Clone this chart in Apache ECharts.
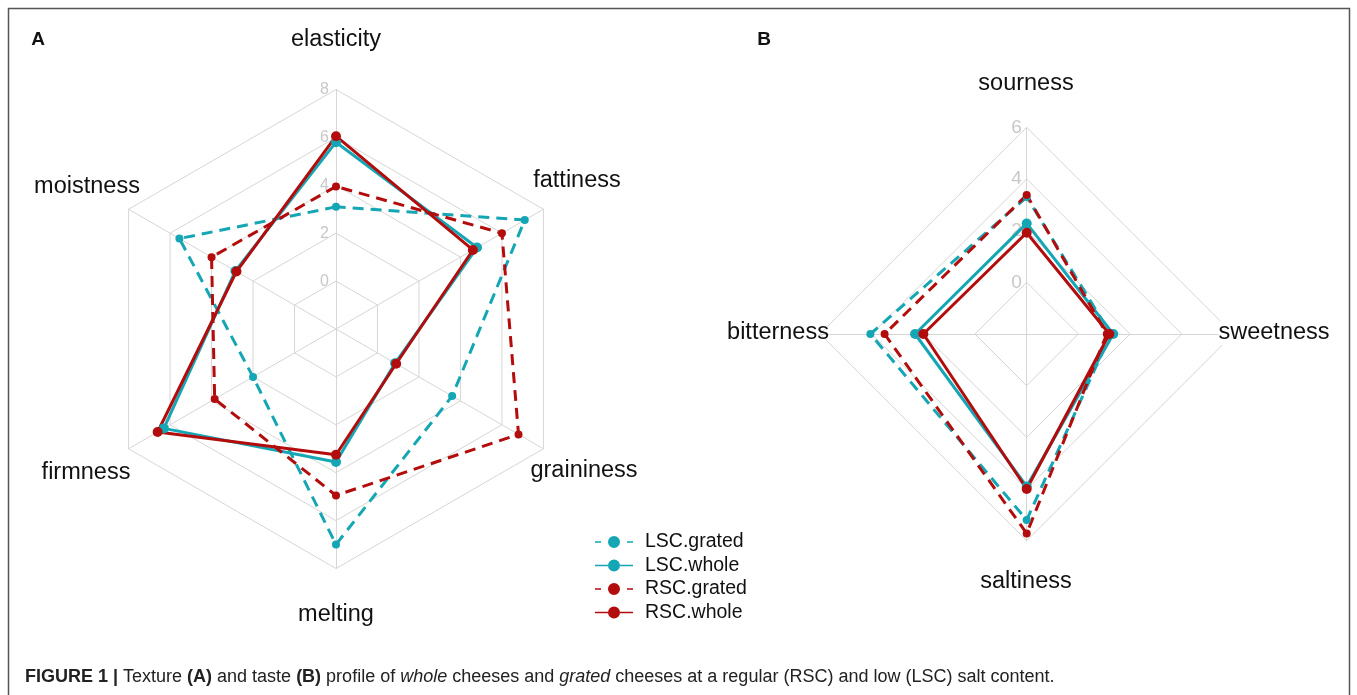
<!DOCTYPE html>
<html>
<head>
<meta charset="utf-8">
<script src="https://cdn.jsdelivr.net/npm/echarts@6/dist/echarts.min.js"></script>
<style>
html,body{margin:0;padding:0;background:#fff;}
#chart{width:1357px;height:695px;}
</style>
</head>
<body>
<div id="chart"></div>
<script>
// ---- Data ----
const seriesNames = ['LSC.grated', 'LSC.whole', 'RSC.grated', 'RSC.whole'];

// Texture (A): order elasticity, moistness, firmness, melting, graininess, fattiness
const textureAttrs = ['elasticity', 'moistness', 'firmness', 'melting', 'graininess', 'fattiness'];
const textureLSCgrated = [3.1, 5.55, 2.0, 7.0, 3.6, 7.1];
const textureLSCwhole  = [5.8, 2.85, 6.3, 3.55, 0.85, 4.8];
const textureRSCgrated = [3.95, 4.0, 3.85, 4.95, 6.8, 6.0];
const textureRSCwhole  = [6.05, 2.8, 6.6, 3.25, 0.9, 4.6];
const textureTicks = ['0', '2', '4', '6', '8'];

// Taste (B): order sourness, bitterness, saltiness, sweetness
const tasteAttrs = ['sourness', 'bitterness', 'saltiness', 'sweetness'];
const tasteLSCgrated = [3.3, 4.05, 5.2, 1.25];
const tasteLSCwhole  = [2.28, 2.32, 3.9, 1.35];
const tasteRSCgrated = [3.38, 3.5, 5.72, 1.1];
const tasteRSCwhole  = [1.92, 2.0, 4.0, 1.2];
const tasteTicks = ['0', '2', '4', '6'];

// ---- Styles ----
const TEAL = '#14a6b4';
const RED = '#b30c0c';
const GRID = '#d6d6d6';
const FONT = 'Liberation Sans, Arial, sans-serif';

const dashedIcon = 'path://M0,5.25h6v1.5h-6z M32,5.25h6v1.5h-6z M13,6a6,6 0 1,0 12,0a6,6 0 1,0 -12,0z';
const solidIcon = 'path://M0,5.25h13v1.5h-13z M25,5.25h13v1.5h-13z M13,6a6,6 0 1,0 12,0a6,6 0 1,0 -12,0z';

function mkSeries(name, radarIndex, values) {
  const dashed = name.indexOf('grated') >= 0;
  const color = name.indexOf('LSC') === 0 ? TEAL : RED;
  return {
    type: 'radar',
    name: name,
    radarIndex: radarIndex,
    symbol: 'circle',
    symbolSize: dashed ? 8 : 10,
    itemStyle: { color: color },
    lineStyle: { color: color, width: 3, type: dashed ? [11, 7] : 'solid' },
    data: [{ name: name, value: values }]
  };
}

const textureMin = -2, textureMax = 8;
const tasteMin = -2, tasteMax = 6;

const chart = echarts.init(document.getElementById('chart'), null, { renderer: 'canvas' });

function radarDef(attrs, min, max, center, radius, splitNumber) {
  return {
    center: center,
    radius: radius,
    startAngle: 90,
    shape: 'polygon',
    splitNumber: splitNumber,
    indicator: attrs.map(a => ({ name: a, min: min, max: max })),
    axisName: { show: false },
    axisLine: { lineStyle: { color: GRID, width: 1 } },
    splitLine: { lineStyle: { color: GRID, width: 1 } },
    splitArea: { show: false },
    axisTick: { show: false },
    axisLabel: { show: false }
  };
}

function txt(x, y, s, size, extra) {
  return Object.assign({
    type: 'text', x: x, y: y, z: 100,
    style: { text: s, font: size + 'px ' + FONT, fill: '#111', align: 'center', verticalAlign: 'middle' }
  }, extra || {});
}

const labelSize = 23.5;

const option = {
  animation: false,
  backgroundColor: '#fff',
  radar: [
    radarDef(textureAttrs, textureMin, textureMax, [336, 329], 239.5, 5),
    radarDef(tasteAttrs, tasteMin, tasteMax, [1026.7, 334], 206.7, 4)
  ],
  polar: [
    { center: [336, 329], radius: 239.5 },
    { center: [1026.7, 334], radius: 206.7 }
  ],
  angleAxis: [
    { polarIndex: 0, show: false, startAngle: 90, min: 0, max: 360 },
    { polarIndex: 1, show: false, startAngle: 90, min: 0, max: 360 }
  ],
  radiusAxis: [
    {
      polarIndex: 0, type: 'value', min: textureMin, max: textureMax, interval: 2,
      axisLine: { show: false }, axisTick: { show: false }, splitLine: { show: false },
      axisLabel: { show: true, showMinLabel: false, color: '#c8c8c8', fontSize: 16, fontFamily: FONT, margin: 0,
        align: 'right', padding: [0, 7, 0, 0],
        formatter: v => (textureTicks.indexOf(String(v)) >= 0 ? String(v) : '') }
    },
    {
      polarIndex: 1, type: 'value', min: tasteMin, max: tasteMax, interval: 2,
      axisLine: { show: false }, axisTick: { show: false }, splitLine: { show: false },
      axisLabel: { show: true, showMinLabel: false, color: '#c8c8c8', fontSize: 19, fontFamily: FONT, margin: 0,
        align: 'right', padding: [0, 5, 0, 0],
        formatter: v => (tasteTicks.indexOf(String(v)) >= 0 ? String(v) : '') }
    }
  ],
  legend: {
    left: 590, top: 527, orient: 'vertical',
    itemWidth: 38, itemHeight: 12, itemGap: 3.5,
    textStyle: { fontSize: 19.5, fontFamily: FONT, color: '#111', padding: [0, 0, 0, 7] },
    data: [
      { name: 'LSC.grated', icon: dashedIcon },
      { name: 'LSC.whole', icon: solidIcon },
      { name: 'RSC.grated', icon: dashedIcon },
      { name: 'RSC.whole', icon: solidIcon }
    ]
  },
  graphic: [
    { type: 'rect', shape: { x: 8.5, y: 8.5, width: 1341, height: 700 }, style: { fill: 'none', stroke: '#555', lineWidth: 1.5 }, z: 0 },
    txt(38, 40, 'A', 19, {}),
    txt(764, 40, 'B', 19, {}),
    txt(336, 40, 'elasticity', labelSize),
    txt(577, 181, 'fattiness', labelSize),
    txt(584, 471, 'graininess', labelSize),
    txt(336, 615, 'melting', labelSize),
    txt(86, 473, 'firmness', labelSize),
    txt(87, 187, 'moistness', labelSize),
    txt(1026, 84, 'sourness', labelSize),
    txt(1274, 333, 'sweetness', labelSize, {}),
    txt(1026, 582, 'saltiness', labelSize),
    txt(778, 333, 'bitterness', labelSize, {}),
    {
      type: 'text', x: 25, y: 677, z: 100,
      style: {
        text: '{b|FIGURE 1 |} Texture {b|(A)} and taste {b|(B)} profile of {i|whole} cheeses and {i|grated} cheeses at a regular (RSC) and low (LSC) salt content.',
        font: '18px ' + FONT, fill: '#222', verticalAlign: 'middle', align: 'left',
        rich: {
          b: { fontWeight: 'bold', fontSize: 18, fontFamily: FONT, fill: '#222' },
          i: { fontStyle: 'italic', fontSize: 18, fontFamily: FONT, fill: '#222' }
        }
      }
    }
  ],
  series: [
    mkSeries('LSC.grated', 0, textureLSCgrated),
    mkSeries('LSC.whole', 0, textureLSCwhole),
    mkSeries('RSC.grated', 0, textureRSCgrated),
    mkSeries('RSC.whole', 0, textureRSCwhole),
    mkSeries('LSC.grated', 1, tasteLSCgrated),
    mkSeries('LSC.whole', 1, tasteLSCwhole),
    mkSeries('RSC.grated', 1, tasteRSCgrated),
    mkSeries('RSC.whole', 1, tasteRSCwhole),
    { type: 'scatter', coordinateSystem: 'polar', polarIndex: 0, data: [], silent: true },
    { type: 'scatter', coordinateSystem: 'polar', polarIndex: 1, data: [], silent: true }
  ]
};

option.graphic[1].style.font = 'bold 19px ' + FONT;
option.graphic[2].style.font = 'bold 19px ' + FONT;
option.graphic[10].style.backgroundColor = '#fff';
option.graphic[13].style.backgroundColor = '#fff';

chart.setOption(option);
</script>
</body>
</html>
